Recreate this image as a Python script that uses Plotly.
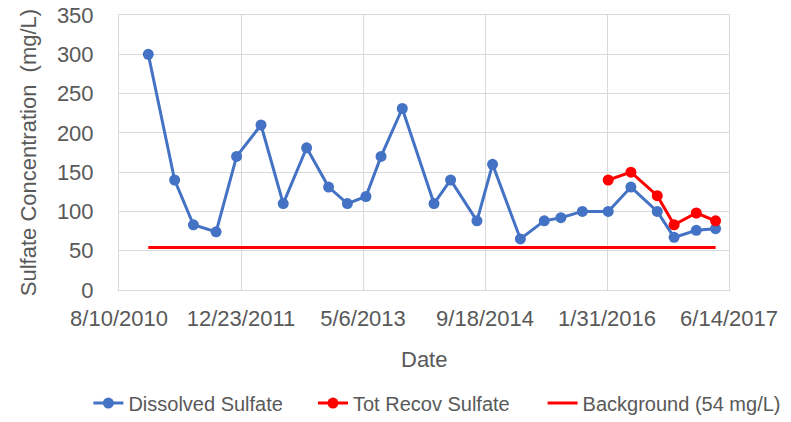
import plotly.graph_objects as go

dissolved_dates = ["2010-12-08", "2011-03-26", "2011-06-11", "2011-09-12", "2011-12-05",
                   "2012-03-14", "2012-06-13", "2012-09-17", "2012-12-16", "2013-03-03",
                   "2013-05-18", "2013-07-19", "2013-10-14", "2014-02-21", "2014-04-30",
                   "2014-08-16", "2014-10-19", "2015-02-10", "2015-05-19", "2015-07-26",
                   "2015-10-22", "2016-02-05", "2016-05-08", "2016-08-24", "2016-11-01",
                   "2017-01-31", "2017-04-20"]
dissolved_vals = [300, 140, 83, 74, 170, 210, 110, 181, 131, 110, 119, 170, 231, 110, 140,
                  88, 160, 65, 88, 92, 100, 100, 131, 100, 67, 76, 78]

recov_dates = ["2016-02-05", "2016-05-08", "2016-08-24", "2016-11-01", "2017-01-31", "2017-04-20"]
recov_vals = [140, 150, 120, 83, 98, 88]

background_dates = ["2010-12-08", "2017-04-20"]
background_vals = [54, 54]

tick_dates = ["2010-08-10", "2011-12-23", "2013-05-06", "2014-09-18", "2016-01-31", "2017-06-14"]
tick_labels = ["8/10/2010", "12/23/2011", "5/6/2013", "9/18/2014", "1/31/2016", "6/14/2017"]
y_ticks = [0, 50, 100, 150, 200, 250, 300, 350]

fig = go.Figure()
fig.add_trace(go.Scatter(x=dissolved_dates, y=dissolved_vals, mode="lines+markers",
                         name="Dissolved Sulfate", legend="legend",
                         line=dict(color="#4472C4", width=3),
                         marker=dict(color="#4472C4", size=11)))
fig.add_trace(go.Scatter(x=recov_dates, y=recov_vals, mode="lines+markers",
                         name="Tot Recov Sulfate", legend="legend2",
                         line=dict(color="#FF0000", width=3),
                         marker=dict(color="#FF0000", size=11)))
fig.add_trace(go.Scatter(x=background_dates, y=background_vals, mode="lines",
                         name="Background (54 mg/L)", legend="legend3",
                         line=dict(color="#FF0000", width=3)))

FONT = "Liberation Sans, Arial, sans-serif"
tick_font = dict(family=FONT, size=22, color="#595959")
legend_font = dict(family=FONT, size=20, color="#595959")
LEG_Y = -0.411


def leg(x):
    return dict(orientation="h", x=x, xanchor="left", y=LEG_Y, yanchor="middle",
                font=legend_font, itemwidth=30, bgcolor="rgba(0,0,0,0)")


fig.update_layout(
    width=791, height=422,
    margin=dict(l=119, r=62, t=15, b=132, autoexpand=False),
    paper_bgcolor="white", plot_bgcolor="white",
    showlegend=True,
    legend=leg(-0.0502),
    legend2=leg(0.318),
    legend3=leg(0.6944),
    annotations=[dict(text="Date", xref="paper", yref="paper", x=0.5, y=-0.2545,
                      xanchor="center", yanchor="middle", showarrow=False,
                      font=dict(family=FONT, size=22, color="#595959"))],
    xaxis=dict(type="date", range=["2010-08-10", "2017-06-14"], automargin=False,
               tickvals=tick_dates, ticktext=tick_labels, tickfont=tick_font,
               ticklabelstandoff=9, ticklabeloverflow="allow",
               showgrid=True, gridcolor="#D9D9D9", gridwidth=1,
               showline=True, linecolor="#D9D9D9", linewidth=1, mirror=True,
               ticks="", zeroline=False),
    yaxis=dict(range=[0, 350], tickvals=y_ticks, tickfont=tick_font, automargin=False,
               ticklabelstandoff=20, ticklabeloverflow="allow",
               showgrid=True, gridcolor="#D9D9D9", gridwidth=1,
               showline=True, linecolor="#D9D9D9", linewidth=1, mirror=True,
               ticks="", zeroline=False,
               title=dict(text="Sulfate Concentration  (mg/L)",
                          font=dict(family=FONT, size=22, color="#595959"),
                          standoff=14)),
)

fig.write_html("out.html",
               config={"displayModeBar": False},
               post_script="document.body.style.margin='0';document.body.style.padding='0';")
